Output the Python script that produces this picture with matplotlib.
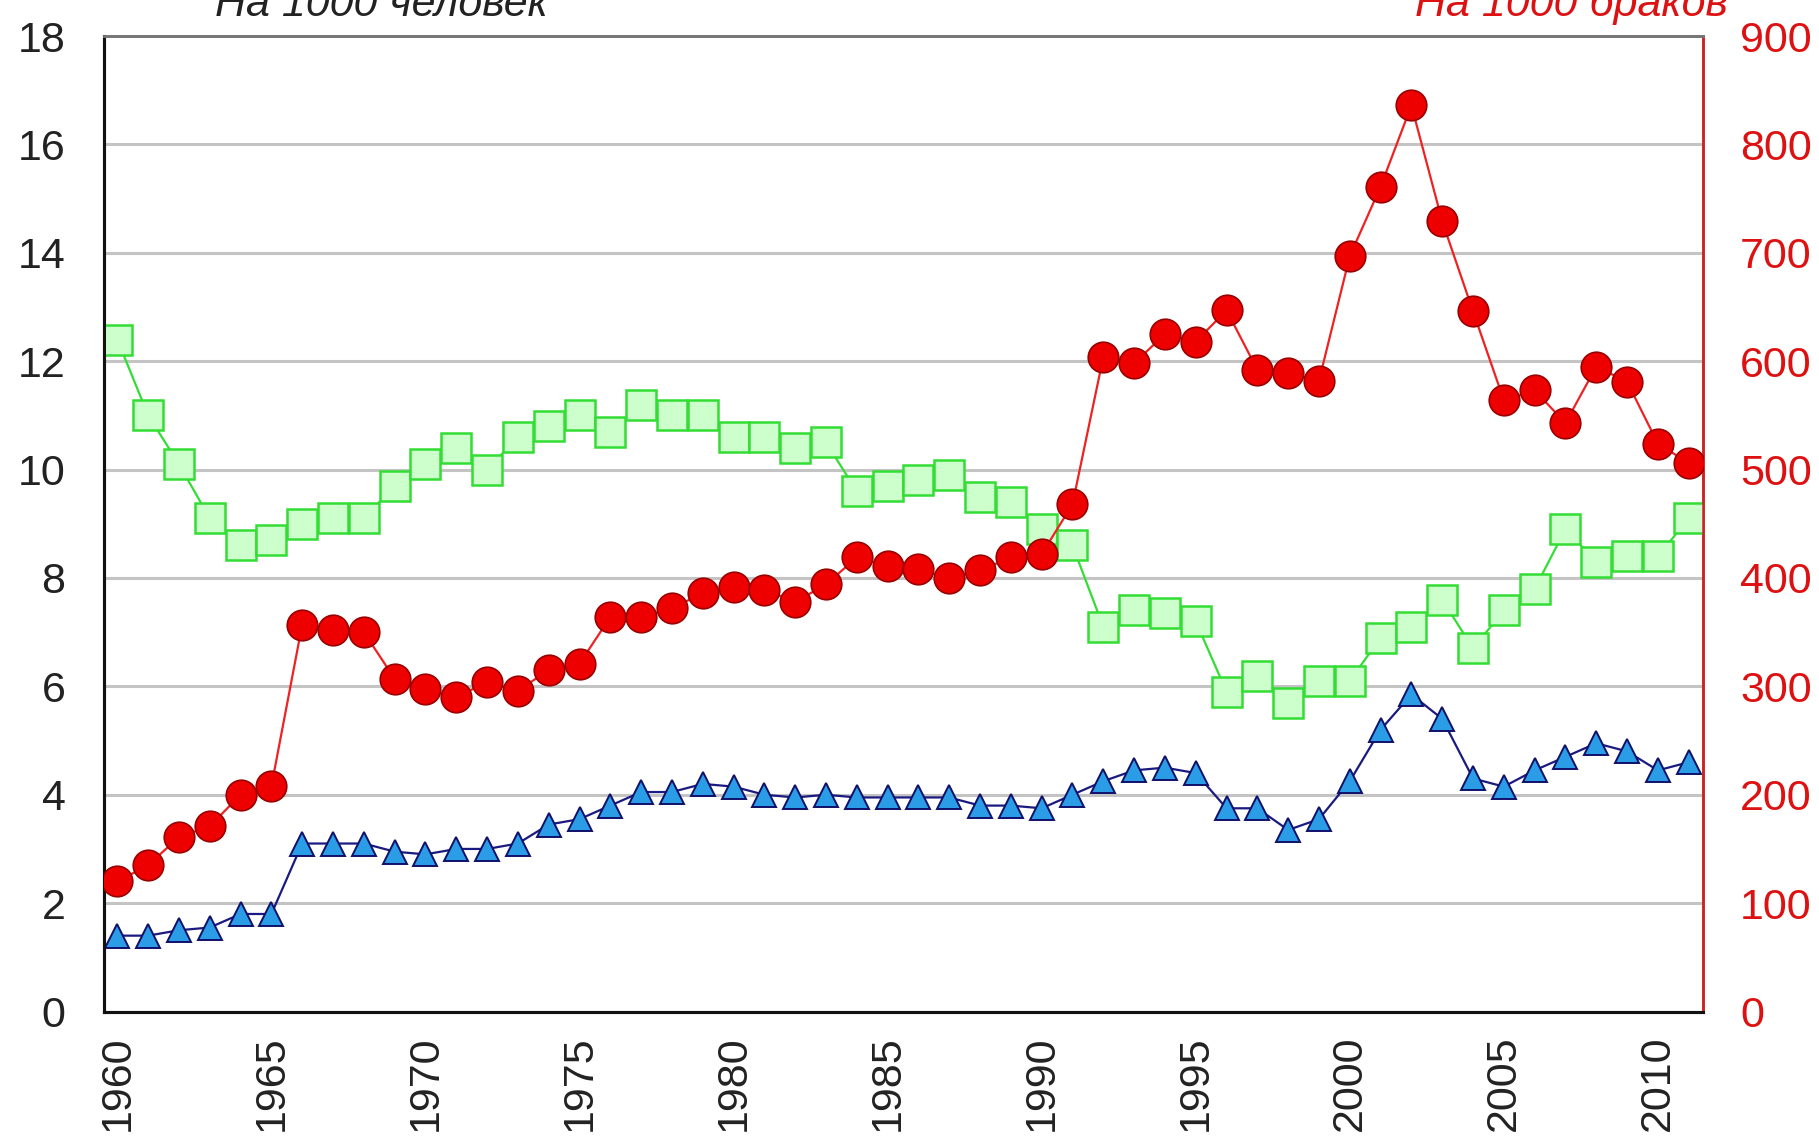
import matplotlib
matplotlib.use("Agg")
import matplotlib.pyplot as plt
import numpy as np

plt.rcParams['font.family'] = ['Liberation Sans', 'DejaVu Sans']

years = np.arange(1960, 2012)

# браки на 1000 человек (левая ось)
marriages = [12.4, 11.0, 10.1, 9.1, 8.6, 8.7, 9.0, 9.1, 9.1, 9.7,
             10.1, 10.4, 10.0, 10.6, 10.8, 11.0, 10.7, 11.2, 11.0, 11.0,
             10.6, 10.6, 10.4, 10.5, 9.6, 9.7, 9.8, 9.9, 9.5, 9.4,
             8.9, 8.6, 7.1, 7.4, 7.35, 7.2, 5.9, 6.2, 5.7, 6.1,
             6.1, 6.9, 7.1, 7.6, 6.7, 7.4, 7.8, 8.9, 8.3, 8.4,
             8.4, 9.1]

# разводы на 1000 человек (левая ось)
divorces = [1.4, 1.4, 1.5, 1.55, 1.8, 1.8, 3.1, 3.1, 3.1, 2.95,
            2.9, 3.0, 3.0, 3.1, 3.45, 3.55, 3.8, 4.05, 4.05, 4.2,
            4.15, 4.0, 3.95, 4.0, 3.95, 3.95, 3.95, 3.95, 3.8, 3.8,
            3.75, 4.0, 4.25, 4.45, 4.5, 4.4, 3.75, 3.75, 3.35, 3.55,
            4.25, 5.2, 5.85, 5.4, 4.3, 4.15, 4.45, 4.7, 4.95, 4.8,
            4.45, 4.6]

# разводы на 1000 браков (правая ось)
per_marriages = [120, 135, 161, 171, 200, 208, 357, 352, 350, 307,
                 298, 290, 304, 296, 315, 321, 364, 364, 372, 386,
                 392, 389, 378, 394, 419, 411, 408, 400, 407, 419,
                 422, 468, 604, 598, 625, 618, 647, 592, 589, 582,
                 697, 761, 836, 729, 646, 564, 573, 543, 595, 581,
                 524, 506]

left_ticks = [0, 2, 4, 6, 8, 10, 12, 14, 16, 18]
right_ticks = [0, 100, 200, 300, 400, 500, 600, 700, 800, 900]
year_ticks = [1960, 1965, 1970, 1975, 1980, 1985, 1990, 1995, 2000, 2005, 2010]

RED = '#dd1111'

fig = plt.figure(figsize=(18.19, 11.44), dpi=100)
ax = fig.add_axes([0.0574, 0.1158, 0.8786, 0.8527])
ax2 = ax.twinx()

ax.plot(years, marriages, color='#33dd33', lw=1.6, marker='s', ms=22,
        mfc='#ccffcc', mec='#33dd33', mew=1.8, zorder=3)
ax.plot(years, divorces, color='#1a1a80', lw=1.6, marker='^', ms=17,
        mfc='#2b9de6', mec='#10106a', mew=1.4, zorder=4)
ax2.plot(years, per_marriages, color='#ee2222', lw=1.6, marker='o', ms=22,
         mfc='#ee0000', mec='#990000', mew=1.2, zorder=5)

ax.set_xlim(1959.58, 2011.45)
ax.set_ylim(0, 18)
ax2.set_ylim(0, 900)

ax.set_yticks(left_ticks)
ax2.set_yticks(right_ticks)
ax.set_xticks(year_ticks)
ax.set_xticklabels([str(y) for y in year_ticks], rotation=90)

ax.grid(axis='y', color='#c4c4c4', lw=2.2)
ax.set_axisbelow(True)

ax.tick_params(axis='y', length=0, pad=28, labelsize=31, labelcolor='#222222')
ax.tick_params(axis='x', length=0, pad=17, labelsize=31, labelcolor='#222222')
ax2.tick_params(axis='y', length=0, pad=27, labelsize=31, labelcolor=RED)

for a in (ax, ax2):
    a.spines['left'].set_color('#111111')
    a.spines['left'].set_linewidth(2.2)
    a.spines['bottom'].set_color('#111111')
    a.spines['bottom'].set_linewidth(2.2)
    a.spines['top'].set_color('#777777')
    a.spines['top'].set_linewidth(2)
    a.spines['right'].set_color('#cc2222')
    a.spines['right'].set_linewidth(1.8)

fig.text(0.118, 0.986, 'На 1000 человек', fontsize=31, style='italic',
         color='#222222', ha='left', va='baseline')
fig.text(0.950, 0.986, 'На 1000 браков', fontsize=31, style='italic',
         color=RED, ha='right', va='baseline')

fig.savefig('out.png', dpi=100)
